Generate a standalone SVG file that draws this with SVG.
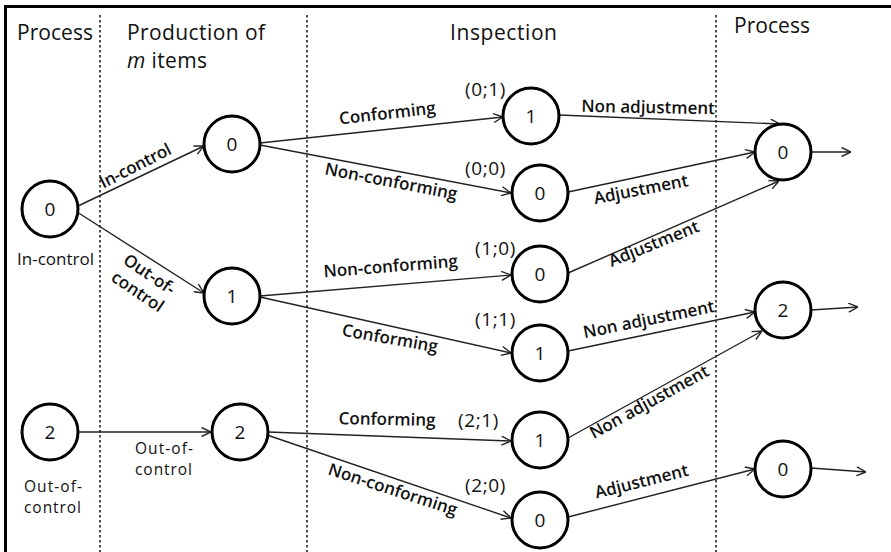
<svg xmlns="http://www.w3.org/2000/svg" width="891" height="552" viewBox="0 0 891 552">
<defs>
<style>
.hdr{font-family:"Open Sans","Noto Sans","Liberation Sans",sans-serif;font-size:21px;fill:#111}
.lbl{font-family:"Open Sans","Noto Sans","Liberation Sans",sans-serif;font-size:17px;fill:#111}
.two{font-family:"Open Sans","Noto Sans","Liberation Sans",sans-serif;font-size:15.5px;fill:#111}
.par{font-family:"Open Sans","Noto Sans","Liberation Sans",sans-serif;font-size:19px;fill:#111;letter-spacing:0.6px}
.el{font-family:"Open Sans","Noto Sans","Liberation Sans",sans-serif;font-size:17px;font-weight:600;fill:#111;text-anchor:middle}
.num{font-family:"Open Sans","Noto Sans","Liberation Sans",sans-serif;font-size:19px;fill:#111;text-anchor:middle}
.node circle{fill:#fff;stroke:#000;stroke-width:3}
.edge{fill:none;stroke:#222;stroke-width:1.4;marker-end:url(#arr)}
.div{stroke:#222;stroke-width:1.6;stroke-dasharray:2.5,2.5}
</style>
<marker id="arr" viewBox="0 0 10 10" refX="10" refY="5" markerWidth="10" markerHeight="10" markerUnits="userSpaceOnUse" orient="auto">
<path d="M0.5,0.5 L10,5 L0.5,9.5" fill="none" stroke="#222" stroke-width="1.4"/>
</marker>
</defs>
<rect x="0" y="0" width="891" height="552" fill="#fff"/>
<rect x="5.5" y="6.5" width="900" height="560" fill="none" stroke="#000" stroke-width="3"/>
<g id="dividers">
<line class="div" x1="100" y1="15" x2="100" y2="552"/>
<line class="div" x1="307" y1="15" x2="307" y2="552"/>
<line class="div" x1="716" y1="15" x2="716" y2="552"/>
</g>
<g id="headers">
<text class="hdr" x="17" y="40" textLength="76">Process</text>
<text class="hdr" x="127" y="40" textLength="138">Production of</text>
<text class="hdr" x="127" y="68" textLength="80"><tspan font-style="italic">m</tspan> items</text>
<text class="hdr" x="450" y="40" textLength="107">Inspection</text>
<text class="hdr" x="734" y="33" textLength="76">Process</text>
</g>
<g id="connectors">
<line class="edge" x1="78" y1="206" x2="204" y2="146"/>
<line class="edge" x1="77" y1="212" x2="204" y2="293"/>
<line class="edge" x1="78" y1="432" x2="211" y2="432"/>
<line class="edge" x1="260" y1="143" x2="503" y2="117"/>
<line class="edge" x1="260" y1="145" x2="511" y2="193"/>
<line class="edge" x1="260" y1="296" x2="511" y2="275"/>
<line class="edge" x1="260" y1="297" x2="511" y2="353"/>
<line class="edge" x1="268" y1="432" x2="511" y2="441"/>
<line class="edge" x1="267" y1="435" x2="511" y2="518"/>
<line class="edge" x1="559" y1="115" x2="780" y2="124"/>
<line class="edge" x1="568" y1="192" x2="755" y2="152"/>
<line class="edge" x1="568" y1="273" x2="779" y2="181"/>
<line class="edge" x1="568" y1="351" x2="755" y2="312"/>
<line class="edge" x1="568" y1="438" x2="762" y2="331"/>
<line class="edge" x1="568" y1="517" x2="755" y2="469"/>
<line class="edge" x1="811" y1="152" x2="851" y2="152"/>
<line class="edge" x1="811" y1="310" x2="858" y2="307"/>
<line class="edge" x1="811" y1="468" x2="866" y2="472"/>
<text class="el" transform="translate(138,171) rotate(-27)" textLength="78">In-control</text>
<g transform="translate(149,275) rotate(34)">
<text class="el" x="0" y="5">Out-of-</text>
<text class="el" x="0" y="26">control</text>
</g>
<text class="two" x="135" y="454" textLength="58">Out-of-</text>
<text class="two" x="135" y="475" textLength="57">control</text>
<text class="el" transform="translate(388,119) rotate(-6.5)">Conforming</text>
<text class="el" transform="translate(390,187) rotate(11)">Non-conforming</text>
<text class="el" transform="translate(391,272) rotate(-4.5)">Non-conforming</text>
<text class="el" transform="translate(389,344) rotate(10)">Conforming</text>
<text class="el" transform="translate(387,425) rotate(1)">Conforming</text>
<text class="el" transform="translate(391,495) rotate(18)">Non-conforming</text>
<text class="el" transform="translate(648,113) rotate(1)">Non adjustment</text>
<text class="el" transform="translate(642,195) rotate(-11)">Adjustment</text>
<text class="el" transform="translate(656,249) rotate(-22)">Adjustment</text>
<text class="el" transform="translate(650,325) rotate(-11.5)">Non adjustment</text>
<text class="el" transform="translate(652,407) rotate(-29)">Non adjustment</text>
<text class="el" transform="translate(643,487) rotate(-14)">Adjustment</text>
<text class="par" x="465" y="96">(0;1)</text>
<text class="par" x="465" y="175">(0;0)</text>
<text class="par" x="475" y="255">(1;0)</text>
<text class="par" x="475" y="326">(1;1)</text>
<text class="par" x="458" y="427">(2;1)</text>
<text class="par" x="465" y="492">(2;0)</text>
</g>
<g id="n-L0" class="node"><circle cx="50" cy="209" r="28"/><text class="num" x="50" y="216">0</text><text class="lbl" x="17" y="265">In-control</text></g>
<g id="n-L2" class="node"><circle cx="50" cy="432" r="28"/><text class="num" x="50" y="439">2</text><text class="two" x="24" y="492" textLength="58">Out-of-</text><text class="two" x="24" y="513" textLength="57">control</text></g>
<g id="n-P0" class="node"><circle cx="232" cy="144" r="28"/><text class="num" x="232" y="151">0</text></g>
<g id="n-P1" class="node"><circle cx="232" cy="296" r="28"/><text class="num" x="232" y="303">1</text></g>
<g id="n-P2" class="node"><circle cx="240" cy="432" r="28"/><text class="num" x="240" y="439">2</text></g>
<g id="n-I01" class="node"><circle cx="531" cy="116" r="28"/><text class="num" x="531" y="123">1</text></g>
<g id="n-I00" class="node"><circle cx="540" cy="193" r="28"/><text class="num" x="540" y="200">0</text></g>
<g id="n-I10" class="node"><circle cx="540" cy="274" r="28"/><text class="num" x="540" y="281">0</text></g>
<g id="n-I11" class="node"><circle cx="540" cy="353" r="28"/><text class="num" x="540" y="360">1</text></g>
<g id="n-I21" class="node"><circle cx="540" cy="440" r="28"/><text class="num" x="540" y="447">1</text></g>
<g id="n-I20" class="node"><circle cx="540" cy="520" r="28"/><text class="num" x="540" y="527">0</text></g>
<g id="n-R0" class="node"><circle cx="783" cy="152" r="28"/><text class="num" x="783" y="159">0</text></g>
<g id="n-R2" class="node"><circle cx="783" cy="310" r="28"/><text class="num" x="783" y="317">2</text></g>
<g id="n-R0b" class="node"><circle cx="783" cy="469" r="28"/><text class="num" x="783" y="476">0</text></g>
</svg>
